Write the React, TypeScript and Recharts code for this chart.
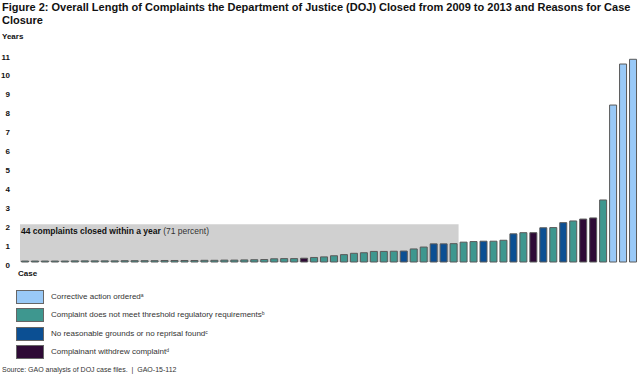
import React from "react";
import { BarChart, Bar, XAxis, YAxis, Cell, ReferenceArea } from "recharts";

// Closure reasons (legend order)
const reasons = [
  "Corrective action ordered",
  "Complaint does not meet threshold regulatory requirements",
  "No reasonable grounds or no reprisal found",
  "Complainant withdrew complaint",
];
const reasonNotes = ["a", "b", "c", "d"];
const reasonColors = ["#99C9F7", "#3E978F", "#0B4F93", "#2E0A36"];

// Length of each complaint, in years (sorted as in the figure)
const caseYears = [
  0.05, 0.05, 0.05, 0.05, 0.05, 0.06, 0.06, 0.06, 0.06, 0.06, 0.07, 0.07, 0.07, 0.07,
  0.08, 0.08, 0.08, 0.08, 0.09, 0.09, 0.1, 0.1, 0.11, 0.12, 0.13, 0.17, 0.18, 0.18,
  0.2, 0.24, 0.27, 0.33, 0.39, 0.46, 0.49, 0.56, 0.56, 0.57, 0.58, 0.69, 0.79, 0.96,
  0.96, 0.97, 1.05, 1.08, 1.1, 1.1, 1.15, 1.49, 1.55, 1.55, 1.81, 1.82, 2.08, 2.17,
  2.27, 2.33, 3.28, 8.3, 10.47, 10.72,
];
// Reason index for each complaint (into reasons)
const caseReason = [
  1, 1, 1, 1, 1, 1, 1, 1, 1, 1, 1, 1, 1, 1,
  1, 1, 1, 1, 1, 1, 1, 1, 1, 1, 1, 1, 1, 1,
  3, 1, 1, 1, 1, 1, 1, 1, 1, 1, 2, 1, 1, 2,
  2, 1, 1, 1, 2, 1, 1, 2, 1, 3, 2, 1, 2, 1,
  3, 3, 1, 0, 0, 0,
];
const yTicks = [0, 1, 2, 3, 4, 5, 6, 7, 8, 9, 10, 11];
const withinYearCount = 44;
const withinYearLabelBold = "44 complaints closed within a year";
const withinYearLabelNormal = " (71 percent)";

const data = caseYears.map((v, i) => ({ id: `c${i + 1}`, years: v, reason: caseReason[i] }));

const FONT = "'Liberation Sans', Arial, sans-serif";

const YTick = (props: any) => {
  const { y, payload } = props;
  return (
    <text x={10} y={y + 5.5} textAnchor="end" fontSize={8} fontWeight="bold" fill="#111" fontFamily={FONT}>
      {payload.value}
    </text>
  );
};

const AreaLabel = (props: any) => {
  const vb = props.viewBox || {};
  return (
    <text x={vb.x + 1} y={vb.y + 9.5} fontSize={8.5} fontFamily={FONT} fill="#111">
      <tspan fontWeight="bold">{withinYearLabelBold}</tspan>
      <tspan fill="#333">{withinYearLabelNormal}</tspan>
    </text>
  );
};

export default function App() {
  return (
    <div style={{ position: "absolute", left: 0, top: 0, width: 640, height: 375, background: "#fff", fontFamily: FONT, overflow: "hidden" }}>
      <div style={{ position: "absolute", left: 2, top: 1, width: 636, fontSize: 11, fontWeight: "bold", lineHeight: "13px", color: "#111" }}>
        Figure 2: Overall Length of Complaints the Department of Justice (DOJ) Closed from 2009 to 2013 and Reasons for Case Closure
      </div>
      <div style={{ position: "absolute", left: 2, top: 32, fontSize: 8, fontWeight: "bold", color: "#111" }}>Years</div>
      <div style={{ position: "absolute", left: 18, top: 269, fontSize: 8, fontWeight: "bold", color: "#111" }}>Case</div>
      <div style={{ position: "absolute", left: 0, top: 0 }}>
        <BarChart width={640} height={375} data={data} margin={{ top: 54, right: 2, bottom: 113, left: 0 }} barCategoryGap="15%">
          <XAxis dataKey="id" tick={false} tickLine={false} height={0} axisLine={{ stroke: "#000", strokeWidth: 2 }} padding={{ left: 5, right: 0 }} />
          <YAxis width={15} domain={[0, 11]} ticks={yTicks} axisLine={false} tickLine={false} tick={<YTick />} interval={0} />
          <ReferenceArea x1={data[0].id} x2={data[withinYearCount - 1].id} y1={0} y2={2} fill="#D0D0D0" fillOpacity={1} stroke="none" label={<AreaLabel />} />
          <Bar dataKey="years" isAnimationActive={false} stroke="#5a5a5a" strokeWidth={1}>
            {data.map((d) => (
              <Cell key={d.id} fill={reasonColors[d.reason]} />
            ))}
          </Bar>
        </BarChart>
      </div>
      {reasons.map((r, i) => (
        <div key={r} style={{ position: "absolute", left: 16, top: 290 + i * 18.3, height: 15 }}>
          <div style={{ position: "absolute", left: 0, top: 0, width: 28, height: 14, background: reasonColors[i], border: "1px solid #666", boxSizing: "border-box" }} />
          <div style={{ position: "absolute", left: 35, top: 1, whiteSpace: "nowrap", fontSize: 8, color: "#333", lineHeight: "12px" }}>
            {r}
            <sup style={{ fontSize: 5, verticalAlign: "top", lineHeight: "8px" }}>{reasonNotes[i]}</sup>
          </div>
        </div>
      ))}
      <div style={{ position: "absolute", left: 2, top: 366, fontSize: 7, color: "#333", whiteSpace: "pre" }}>
        Source: GAO analysis of DOJ case files.  |  GAO-15-112
      </div>
    </div>
  );
}
